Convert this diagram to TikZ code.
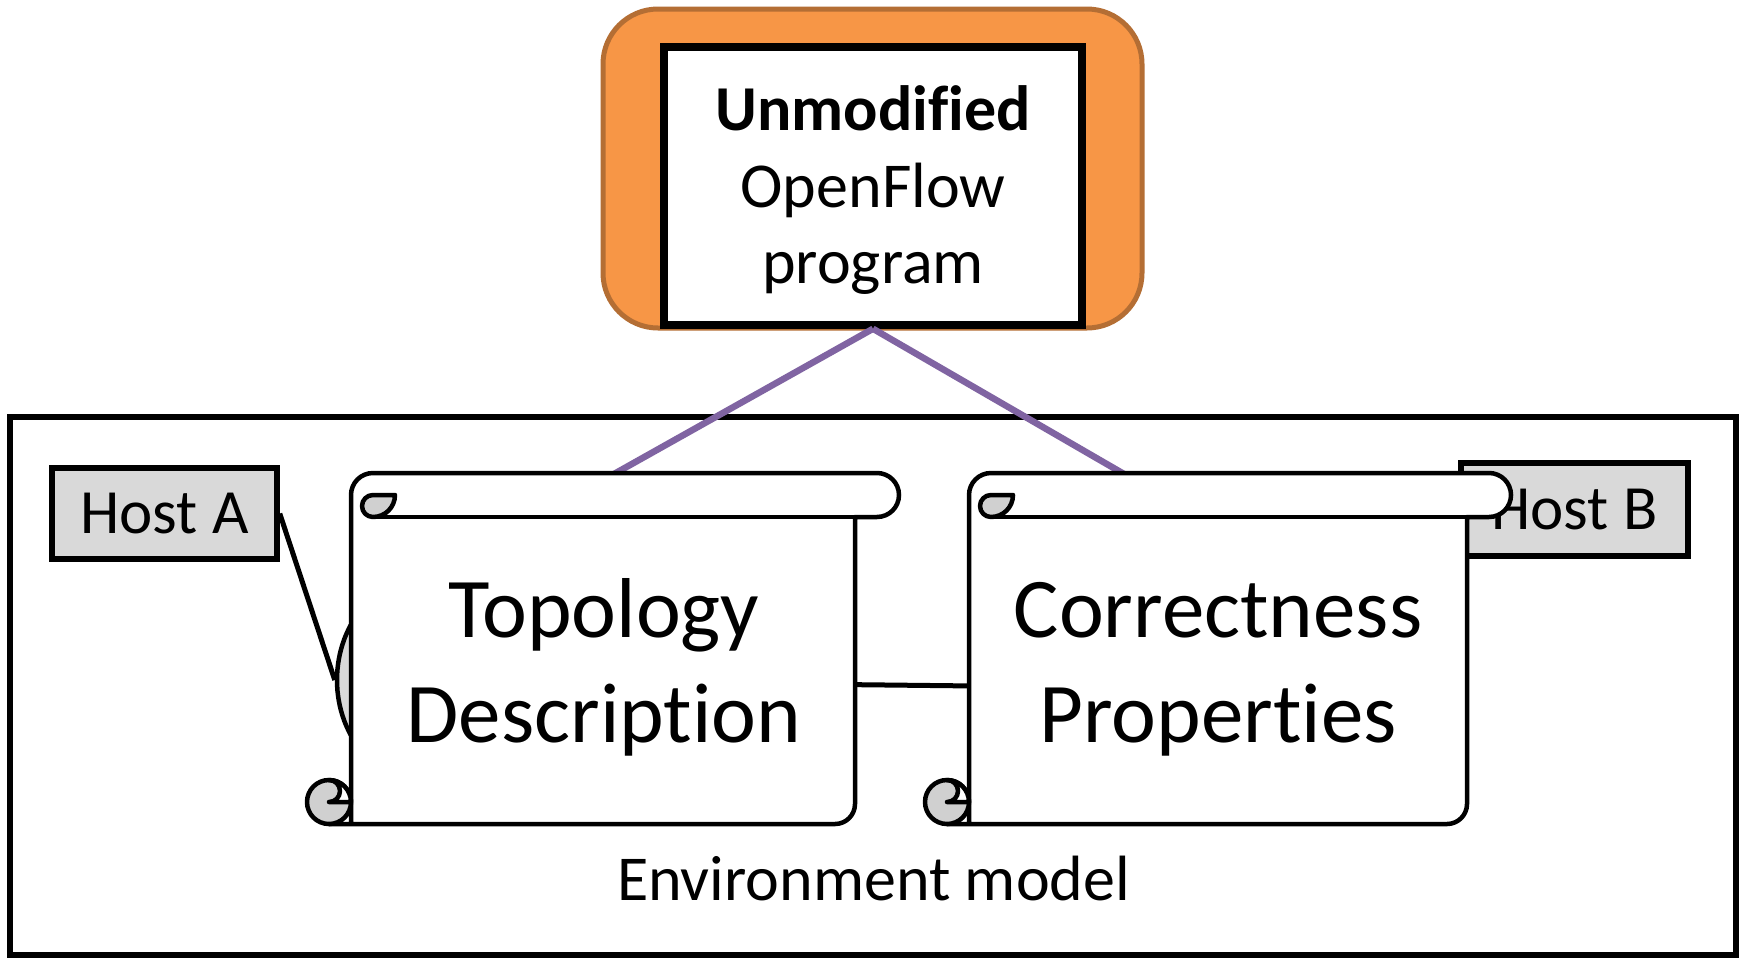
\documentclass[tikz,border=0pt]{standalone}
\usepackage{fontspec}
\setmainfont{Carlito}[Ligatures=NoCommon]
\usetikzlibrary{shapes.geometric}
\definecolor{orangefill}{HTML}{F79646}
\definecolor{orangeline}{HTML}{B46E34}
\definecolor{purpleline}{HTML}{8064A2}
\definecolor{hostgray}{HTML}{D9D9D9}
\definecolor{curlgray}{HTML}{D0D0D0}
\tikzset{
  hostbox/.style={draw=black, fill=hostgray, line width=5.5pt, minimum width=225pt, minimum height=91pt, inner sep=0pt, font=\fontsize{63}{74}\selectfont},
  envbox/.style={draw=black, fill=white, line width=6pt, minimum width=1726pt, minimum height=538pt, inner sep=0pt},
  outerbox/.style={draw=orangeline, fill=orangefill, line width=5pt, rounded corners=55pt, minimum width=539pt, minimum height=319pt, inner sep=0pt},
  progbox/.style={draw=black, fill=white, line width=7.5pt, minimum width=418pt, minimum height=278pt, inner sep=0pt},
  linkline/.style={draw=black, line width=5pt},
  ctrlline/.style={draw=purpleline, line width=6.5pt},
  scrollline/.style={draw=black, line width=4.5pt, line join=round, line cap=round},
  bigtext/.style={font=\fontsize{85}{104}\selectfont, anchor=base, inner sep=0pt},
  midtext/.style={font=\fontsize{64}{77}\selectfont, anchor=base, inner sep=0pt},
  switchnode/.style={ellipse, draw=black, fill=hostgray, line width=4.5pt, minimum width=186pt, minimum height=210pt, inner sep=0pt},
}
% #1 left, #2 top, #3 right, #4 bottom (image coordinates, y down)
\newcommand\drawscroll[4]{%
  \draw[scrollline, fill=white]
    ({#1+22},#4) -- ({#3-64},#4) arc[start angle=90, end angle=0, radius=20]
    -- ({#3-44},{#2+44}) -- ({#3-22},{#2+44})
    arc[start angle=90, end angle=-90, radius=22]
    -- ({#1+66},#2)
    arc[start angle=-90, end angle=-180, radius=22]
    -- ({#1+44},#4);
  \draw[scrollline] ({#1+66},{#2+44}) -- ({#3-44},{#2+44});
  \draw[scrollline, fill=curlgray] ({#1+66},{#2+22}) -- ({#1+88},{#2+22})
    arc[start angle=0, end angle=90, radius=22]
    arc[start angle=90, end angle=270, radius=11] -- cycle;
  \draw[scrollline, fill=curlgray] ({#1+22},{#4-22}) circle[radius=22];
  \draw[scrollline, fill=white] ({#1+22},{#4-44})
    arc[start angle=-90, end angle=0, radius=22] -- ({#1+22},{#4-22})
    arc[start angle=90, end angle=-90, radius=11] -- cycle;
}
\begin{document}
\begin{tikzpicture}[x=1pt,y=-1pt]
  \useasboundingbox (0,0) rectangle (1745,959);
  \fill[white] (0,0) rectangle (1745,959);

  % environment box
  \node[envbox] (env) at (873,686) {};

  % hidden switch behind topology scroll, hosts
  \node[switchnode] (swA) at (430,680) {};
  \coordinate (swB) at (1250,689);
  \node[hostbox] (hostA) at (164.5,513.5) {Host A};
  \node[hostbox, minimum width=227pt, minimum height=93pt] (hostB) at (1574.5,509.5) {Host B};
  \draw[linkline] (hostA.east) -- (swA.west);
  \draw[linkline] (swA) -- (swB);

  % program
  \node[outerbox] (outer) at (872.5,168.5) {};
  \node[progbox] (prog) at (873,186) {};

  % control lines to the scrolls
  \coordinate (topA) at (614,474);
  \coordinate (topB) at (1124,474);
  \draw[ctrlline] (prog.south) -- (topA);
  \draw[ctrlline] (prog.south) -- (topB);

  % scrolls
  \drawscroll{307}{473}{899}{824}
  \drawscroll{925}{473}{1511}{824}

  % texts
  \node[midtext] (t1) at (873,130) {\bfseries Unmodified};
  \node[midtext] (t2) at (873,207) {OpenFlow};
  \node[midtext] (t3) at (873,283) {program};
  \node[bigtext] (topo1) at (604,637) {Topology};
  \node[bigtext] (topo2) at (604,742) {Description};
  \node[bigtext] (corr1) at (1218,637) {Correctness};
  \node[bigtext] (corr2) at (1218,742) {Properties};
  \node[midtext] (envlabel) at (873.5,900) {Environment model};
\end{tikzpicture}
\end{document}
